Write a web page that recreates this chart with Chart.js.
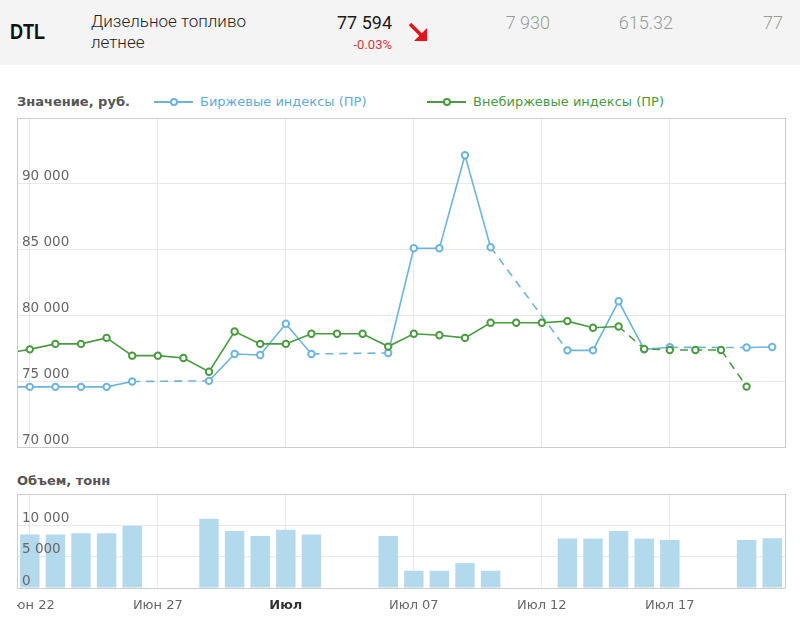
<!DOCTYPE html>
<html>
<head>
<meta charset="utf-8">
<script src="https://cdn.jsdelivr.net/npm/chart.js@4.4.0/dist/chart.umd.min.js"></script>
<style>
  html, body { margin: 0; padding: 0; background: #fff; width: 800px; height: 624px; overflow: hidden; position: relative; font-family: "DejaVu Sans", sans-serif; }
  .abs { position: absolute; white-space: nowrap; }
  #hdr { left: 0; top: 0; width: 800px; height: 65px; background: #f4f4f4; }
  .hfont { font-family: Roboto, "Noto Sans", sans-serif; }
  .box { position: absolute; box-sizing: border-box; border: 1px solid #cccccc; pointer-events: none; z-index: 5; }
  .ttl { font-family: "DejaVu Sans", sans-serif; font-weight: bold; font-size: 13px; line-height: 16px; color: #555; }
  .leg { font-family: "DejaVu Sans", sans-serif; font-size: 13px; line-height: 16px; }
  .lline { position: absolute; height: 2px; }
  .ldot { position: absolute; width: 4px; height: 4px; border-radius: 50%; background: #fff; border: 2px solid; }
</style>
</head>
<body>
<div id="hdr" class="abs"></div>
<div class="abs" style="left:10px;top:21px;font-family:'Liberation Sans',Arial,sans-serif;font-weight:bold;font-size:22px;line-height:22px;color:#111;transform:scaleX(0.82);transform-origin:left top;">DTL</div>
<div class="abs hfont" style="left:91px;top:13px;font-size:17px;line-height:17px;font-weight:300;color:#222;">Дизельное топливо</div>
<div class="abs hfont" style="left:91px;top:34px;font-size:17px;line-height:17px;font-weight:300;color:#222;">летнее</div>
<div class="abs hfont" style="right:408px;top:14px;font-size:18px;line-height:18px;font-weight:400;color:#1a1a1a;text-align:right;">77 594</div>
<div class="abs hfont" style="right:408px;top:38px;font-size:13px;line-height:13px;font-weight:400;color:#cc3b3b;text-align:right;">-0.03%</div>
<svg class="abs" style="left:405px;top:20px;" width="26" height="24" viewBox="0 0 26 24">
  <line x1="5" y1="4" x2="18" y2="17" stroke="#e3151b" stroke-width="3.5"/>
  <polygon points="22,21 22,8 9,21" fill="#e3151b"/>
</svg>
<div class="abs hfont" style="right:250px;top:14px;font-size:18px;line-height:18px;font-weight:300;color:#9a9a9a;">7 930</div>
<div class="abs hfont" style="right:127px;top:14px;font-size:18px;line-height:18px;font-weight:300;color:#9a9a9a;">615.32</div>
<div class="abs hfont" style="left:763px;top:14px;font-size:18px;line-height:18px;font-weight:300;color:#9a9a9a;">77</div>

<div class="abs ttl" style="left:17px;top:94px;">Значение, руб.</div>
<div class="lline" style="left:154px;top:101px;width:39px;background:#6cb4dc;"></div>
<div class="ldot" style="left:170px;top:98px;border-color:#6cb4dc;"></div>
<div class="abs leg" style="left:200px;top:94px;color:#62acd6;">Биржевые индексы (ПР)</div>
<div class="lline" style="left:427px;top:101px;width:39px;background:#4a9a40;"></div>
<div class="ldot" style="left:443px;top:98px;border-color:#4a9a40;"></div>
<div class="abs leg" style="left:473px;top:94px;color:#4a9a40;">Внебиржевые индексы (ПР)</div>

<canvas id="c1" width="768" height="329" style="position:absolute;left:17px;top:118px;"></canvas>
<div class="box" style="left:17px;top:118px;width:769px;height:330px;"></div>

<div class="abs ttl" style="left:17px;top:473px;">Объем, тонн</div>
<canvas id="c2" width="768" height="124" style="position:absolute;left:17px;top:494px;"></canvas>
<div class="box" style="left:17px;top:494px;width:769px;height:95px;"></div>

<script>
// ---- Data ----
const dates = ['21.06','22.06','23.06','24.06','25.06','26.06','27.06','28.06','29.06','30.06',
  '01.07','02.07','03.07','04.07','05.07','06.07','07.07','08.07','09.07','10.07',
  '11.07','12.07','13.07','14.07','15.07','16.07','17.07','18.07','19.07','20.07','21.07'];
const firstShown = '22.06';
const exchangeIdx = [74570, 74570, 74570, 74570, 74570, 74975, null, null, 75025, 77070,
  76990, 79365, 77070, null, null, 77145, 85100, 85100, 92165, 85180,
  null, null, 77345, 77345, 81070, 77420, 77575, null, null, 77560, 77594];
const otcIdx = [77100, 77420, 77835, 77835, 78290, 76940, 76940, 76760, 75715, 78775,
  77835, 77835, 78600, 78600, 78600, 77630, 78600, 78495, 78290, 79440,
  79440, 79440, 79565, 79060, 79160, 77450, 77375, 77375, 77375, 74590, null];
const otcEstimatedFrom = '15.07';
const volume = [null, 8520, 8520, 8730, 8730, 9950, null, null, 11060, 9100,
  8300, 9310, 8520, null, null, 8300, 2750, 2750, 3970, 2750,
  null, null, 7880, 7880, 9100, 7880, 7670, null, null, 7670, 7930];
const tickDates = ['22.06','27.06','02.07','07.07','12.07','17.07'];
const tickLabels = ['Июн 22','Июн 27','Июл','Июл 07','Июл 12','Июл 17'];

// ---- Styles ----
const BLUE = '#6cb4dc';
const GREEN = '#4a9a40';
const GRID = '#e8e8e8';
const DASH = [8, 6];
const fmt = v => String(v).replace(/\B(?=(\d{3})+(?!\d))/g, ' ');
const vGrid = ctx => (ctx.tick && tickDates.includes(dates[ctx.tick.value])) ? GRID : 'rgba(0,0,0,0)';
const estIdx = dates.indexOf(otcEstimatedFrom);
const yTickFont = { family: 'DejaVu Sans', size: 13.5 };
const noPadY = s => { s.width = 0; s.paddingTop = 0; s.paddingBottom = 0; s.paddingLeft = 0; s.paddingRight = 0; };
const fixX = h => s => { s.height = h; s.paddingLeft = 0; s.paddingRight = 0; s.paddingTop = 0; s.paddingBottom = 0; };

new Chart(document.getElementById('c1'), {
  type: 'line',
  data: {
    labels: dates,
    datasets: [
      {
        label: 'Биржевые индексы (ПР)', data: exchangeIdx, order: 1,
        borderColor: BLUE, backgroundColor: '#fff', borderWidth: 1.6,
        pointRadius: 3.2, pointBorderWidth: 2, pointBackgroundColor: '#fff', pointBorderColor: BLUE,
        spanGaps: true, tension: 0, clip: 0,
        segment: { borderDash: ctx => (ctx.p0.skip || ctx.p1.skip) ? DASH : undefined }
      },
      {
        label: 'Внебиржевые индексы (ПР)', data: otcIdx, order: 0,
        borderColor: GREEN, backgroundColor: '#fff', borderWidth: 1.6,
        pointRadius: 3.2, pointBorderWidth: 2, pointBackgroundColor: '#fff', pointBorderColor: GREEN,
        spanGaps: false, tension: 0, clip: 0,
        segment: { borderDash: ctx => (ctx.p0DataIndex >= estIdx) ? DASH : undefined }
      }
    ]
  },
  options: {
    responsive: false, animation: false,
    layout: { padding: 0, autoPadding: false },
    plugins: { legend: { display: false }, tooltip: { enabled: false } },
    scales: {
      x: {
        type: 'category', min: firstShown, offset: true,
        grid: { color: vGrid, drawTicks: false, offset: false },
        border: { display: false },
        ticks: { display: false },
        afterFit: fixX(0)
      },
      y: {
        min: 70000, max: 95000,
        grid: { color: GRID, drawTicks: false },
        border: { display: false },
        ticks: { stepSize: 5000, mirror: true, padding: 5, labelOffset: -7, color: '#666', font: yTickFont, z: 1,
          callback: v => v >= 95000 ? '' : fmt(v) },
        afterFit: noPadY
      }
    }
  }
});

new Chart(document.getElementById('c2'), {
  type: 'bar',
  data: {
    labels: dates,
    datasets: [{
      label: 'Объем, тонн', data: volume,
      backgroundColor: '#b3d9ed', borderWidth: 0,
      categoryPercentage: 1, barPercentage: 0.76
    }]
  },
  options: {
    responsive: false, animation: false,
    layout: { padding: 0, autoPadding: false },
    plugins: { legend: { display: false }, tooltip: { enabled: false } },
    scales: {
      x: {
        type: 'category', min: firstShown, offset: true,
        grid: { color: vGrid, drawTicks: false, offset: false },
        border: { display: false },
        ticks: {
          autoSkip: false, maxRotation: 0, minRotation: 0, padding: 10,
          color: ctx => (ctx.tick && ctx.tick.label === 'Июл') ? '#333' : '#666',
          font: ctx => ({ family: 'DejaVu Sans', size: 13, weight: (ctx.tick && ctx.tick.label === 'Июл') ? 'bold' : 'normal' }),
          callback: function (v) {
            const i = tickDates.indexOf(this.getLabelForValue(v));
            return i >= 0 ? tickLabels[i] : '';
          }
        },
        afterFit: fixX(30)
      },
      y: {
        min: 0, max: 15000,
        grid: { color: GRID, drawTicks: false },
        border: { display: false },
        ticks: { stepSize: 5000, mirror: true, padding: 5, labelOffset: -7, color: '#666', font: yTickFont, z: 1,
          callback: v => v >= 15000 ? '' : fmt(v) },
        afterFit: noPadY
      }
    }
  }
});
</script>
</body>
</html>
